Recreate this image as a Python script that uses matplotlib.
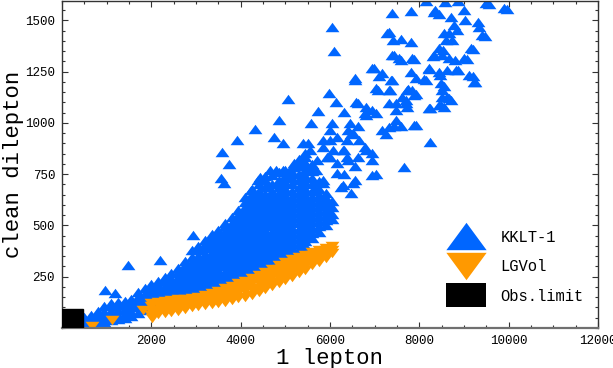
import matplotlib
matplotlib.use("Agg")
import matplotlib.pyplot as plt
from matplotlib.lines import Line2D
from matplotlib.patches import Rectangle
from matplotlib.ticker import MultipleLocator

# KKLT-1: dense band, read column by column (x, then the y values in that column)
kklt_cols = [500, 650, 800, 950, 1100, 1250, 1400, 1550, 1700, 1850, 2000, 2150,
             2300, 2450, 2600, 2750, 2900, 3050, 3200, 3350, 3500, 3650, 3800,
             3950, 4100, 4250, 4400, 4550, 4700, 4850, 5000, 5150, 5300, 5450,
             5600, 5750, 5900, 6050]
kklt_col_y = [
    [25, 40, 55],
    [25, 45, 65],
    [28, 50, 70, 85],
    [30, 55, 80, 105],
    [38, 60, 85, 105, 120],
    [43, 65, 90, 110, 128],
    [48, 70, 95, 115, 132],
    [60, 80, 100, 120, 140],
    [75, 100, 125, 150, 175],
    [90, 115, 140, 165, 195],
    [105, 130, 155, 180, 200, 215],
    [118, 140, 165, 190, 210, 228],
    [130, 155, 180, 205, 230, 250],
    [140, 165, 190, 215, 240, 270],
    [150, 175, 200, 225, 250, 275, 295],
    [158, 183, 208, 233, 258, 283, 305, 325],
    [170, 195, 220, 245, 270, 295, 320, 345, 380],
    [178, 203, 228, 253, 278, 303, 328, 353, 378, 400],
    [188, 213, 238, 263, 288, 313, 338, 363, 388, 410, 430],
    [198, 223, 248, 273, 298, 323, 348, 373, 398, 423, 445, 460],
    [210, 235, 260, 285, 310, 335, 360, 385, 410, 435, 460, 480],
    [225, 250, 275, 300, 325, 350, 375, 400, 425, 450, 475, 495, 510],
    [238, 263, 288, 313, 338, 363, 388, 413, 438, 463, 488, 513, 540],
    [250, 275, 300, 325, 350, 375, 400, 425, 450, 475, 500, 525, 550, 575],
    [265, 290, 315, 340, 365, 390, 415, 440, 465, 490, 515, 540, 565, 590, 615, 640],
    [276, 300, 325, 350, 375, 400, 425, 450, 475, 500, 525, 550, 575, 600, 625, 655, 680],
    [290, 315, 340, 365, 390, 415, 440, 465, 490, 515, 540, 565, 590, 615, 640, 670, 700],
    [305, 330, 355, 380, 405, 430, 455, 480, 505, 530, 555, 580, 605, 630, 655, 690, 720],
    [320, 345, 370, 395, 420, 445, 470, 495, 520, 545, 570, 595, 620, 645, 670, 700, 745],
    [335, 360, 385, 410, 435, 460, 485, 510, 535, 560, 585, 610, 635, 660, 690, 720, 760],
    [350, 375, 400, 425, 450, 475, 500, 525, 550, 575, 600, 625, 650, 680, 710, 740, 770],
    [365, 390, 415, 440, 465, 490, 515, 540, 565, 590, 615, 640, 670, 700, 730, 760, 785],
    [385, 410, 435, 460, 485, 510, 535, 560, 585, 610, 635, 660, 690, 720, 750, 790, 825],
    [400, 425, 450, 475, 500, 525, 550, 575, 600, 625, 650, 680, 710, 740, 770, 800, 835],
    [440, 465, 490, 515, 540, 565, 590, 615, 640, 670, 700, 730, 765, 800],
    [470, 495, 520, 545, 570, 595, 620, 650, 680, 717],
    [500, 525, 550, 575, 605, 635, 660],
    [530, 555, 590, 620],
]

# KKLT-1: scattered points above the band
kklt_spread = [
    (961, 187), (1185, 172), (1475, 308), (2190, 333), (2928, 454),
    (3554, 732), (3621, 707), (3576, 858), (3733, 800), (3911, 917), (4314, 971),
    (4224, 673), (4381, 722), (4537, 741), (4582, 688), (4425, 736), (4649, 770),
    (4783, 770), (4872, 707), (4939, 688), (4939, 770), (5029, 751), (5163, 785),
    (5185, 804), (5319, 722), (5342, 790), (5342, 688), (5386, 819), (5386, 902),
    (5431, 853), (5498, 902), (5543, 868), (5543, 770), (5677, 770), (5677, 688),
    (5699, 819), (5833, 882), (5833, 722), (5833, 916), (5833, 707), (5923, 834),
    (5990, 917), (5990, 834), (5990, 965), (6035, 999), (6057, 868), (6146, 931),
    (6146, 804), (6146, 756), (6236, 688), (6280, 868), (6280, 697), (6303, 751),
    (6303, 868), (6370, 916), (6370, 834), (6392, 965), (6392, 819), (6437, 999),
    (6459, 945), (6459, 658), (6504, 950), (6504, 707), (6549, 790), (6549, 722),
    (6638, 984), (6638, 834), (6660, 916), (6794, 882), (6817, 868), (6951, 853),
    (6951, 819), (6951, 746), (7040, 751), (7264, 945), (7442, 984), (7599, 984),
    (7174, 965), (7331, 979), (7487, 1013), (7890, 989), (7934, 989), (7666, 785),
    (8247, 906),
    (4738, 931), (4850, 1013), (4939, 902), (5051, 1116), (5565, 999), (5722, 1057),
    (5967, 1145), (6124, 1101), (6303, 1052), (6593, 1101), (6638, 1096),
    (6794, 1048), (6817, 1077), (6817, 1038), (6951, 1062), (7040, 1048),
    (7085, 1160), (7040, 1170), (7331, 1096), (7331, 1160), (7353, 1160),
    (7487, 1062), (7487, 1096), (7621, 1126), (7711, 1096), (7711, 1111),
    (7733, 1077), (7755, 1164), (7733, 1160), (7845, 1160), (7890, 1135),
    (7934, 1140), (8225, 1072), (8247, 1072), (8448, 1087), (8493, 1087),
    (8560, 1077), (8627, 1126), (8672, 1121), (8717, 1111), (8515, 1126),
    (8515, 1160), (8493, 1194), (8560, 1179), (8113, 1213), (8158, 1208),
    (7934, 1218), (7823, 1247), (7376, 1208), (7398, 1208), (7174, 1242),
    (7107, 1228), (6996, 1267), (6951, 1267), (6549, 1208), (6549, 1218),
    (8225, 1262), (8225, 1267), (8448, 1247), (8471, 1233), (8627, 1257),
    (8828, 1257), (8873, 1257), (9119, 1233), (9208, 1228), (9231, 1198),
    (9253, 1198),
    (6079, 1349), (6035, 1466), (7398, 1330), (7442, 1330), (7554, 1315),
    (7599, 1305), (7845, 1315), (7890, 1310), (8314, 1325), (8337, 1330),
    (8515, 1330), (8538, 1354), (8448, 1363), (8672, 1315), (8806, 1305),
    (9007, 1315), (9074, 1310), (9164, 1363), (9208, 1359), (7286, 1437),
    (7331, 1442), (7420, 1403), (7599, 1408), (7823, 1393), (8560, 1437),
    (8605, 1403), (8672, 1437), (8739, 1403), (8784, 1476), (8851, 1452),
    (9029, 1500), (9320, 1490), (9342, 1466), (9409, 1427), (9476, 1422),
    (7398, 1534), (7823, 1544), (8337, 1539), (8359, 1549), (8448, 1529),
    (8717, 1515), (9007, 1549), (8582, 1588), (8158, 1595), (8873, 1595),
    (9499, 1583), (9566, 1578), (9901, 1559), (9968, 1554),
]

# LGVol: band read column by column, plus a few low points on the left
lgvol_cols = [2000, 2150, 2300, 2450, 2600, 2750, 2900, 3050, 3200, 3350, 3500,
              3650, 3800, 3950, 4100, 4250, 4400, 4550, 4700, 4850, 5000, 5150,
              5300, 5450, 5600, 5750, 5900, 6050]
lgvol_col_y = [
    [65, 85, 105, 124],
    [70, 90, 110, 128],
    [72, 92, 113, 133],
    [78, 98, 118, 137],
    [85, 104, 122, 140],
    [92, 110, 127, 143],
    [100, 116, 132, 147],
    [106, 121, 136, 150],
    [110, 127, 144, 160],
    [116, 135, 154, 172],
    [122, 142, 162, 182],
    [127, 149, 171, 193],
    [135, 158, 182, 205],
    [145, 169, 193, 217],
    [153, 179, 205, 230],
    [163, 190, 218, 245],
    [175, 196, 217, 239, 260],
    [190, 211, 232, 254, 275],
    [205, 226, 247, 269, 290],
    [220, 242, 264, 286, 307],
    [235, 257, 279, 301, 323],
    [250, 272, 293, 315, 336],
    [267, 287, 307, 328, 348],
    [285, 303, 321, 340, 358],
    [305, 321, 337, 354, 370],
    [322, 337, 352, 367, 382],
    [342, 355, 367, 380, 392],
    [365, 382, 398],
]
lgvol_extra = [(671, 12), (1118, 41), (1810, 89), (2012, 51)]

# observational limit box (x, y)
obs_limit = (460, 92)

labels = ['KKLT-1', 'LGVol', 'Obs.limit']
x_ticks = [2000, 4000, 6000, 8000, 10000, 12000]
y_ticks = [250, 500, 750, 1000, 1250, 1500]

blue = '#0066ff'
orange = '#ff9900'
tri_up = [(-1, -0.68), (1, -0.68), (0, 0.68), (-1, -0.68)]
tri_dn = [(-1, 0.68), (1, 0.68), (0, -0.68), (-1, 0.68)]
box = [(-1, -0.62), (1, -0.62), (1, 0.62), (-1, 0.62), (-1, -0.62)]

plt.rcParams['font.family'] = ['Liberation Mono', 'DejaVu Sans Mono']

kx = [c for c, ys in zip(kklt_cols, kklt_col_y) for _ in ys]
ky = [y for ys in kklt_col_y for y in ys]
kx += [p[0] for p in kklt_spread]
ky += [p[1] for p in kklt_spread]

lx = [c for c, ys in zip(lgvol_cols, lgvol_col_y) for _ in ys]
ly = [y for ys in lgvol_col_y for y in ys]
lx += [p[0] for p in lgvol_extra]
ly += [p[1] for p in lgvol_extra]

fig = plt.figure(figsize=(6.13, 3.68), dpi=100)
ax = fig.add_axes([62 / 613, 40 / 368, 536 / 613, 327.5 / 368])

ax.plot(kx, ky, ls='none', marker=tri_up, ms=10, color=blue, mew=0)
ax.plot(lx, ly, ls='none', marker=tri_dn, ms=10, color=orange, mew=0)
ax.add_patch(Rectangle((0, 0), obs_limit[0], obs_limit[1], color='black', zorder=3))

ax.set_xlim(0, 12000)
ax.set_ylim(0, 1597)
ax.set_xticks(x_ticks)
ax.set_yticks(y_ticks)
ax.xaxis.set_minor_locator(MultipleLocator(500))
ax.yaxis.set_minor_locator(MultipleLocator(50))
ax.tick_params(which='both', direction='in', top=True, right=True,
               labelsize=9, width=0.8, color='#333333')
ax.tick_params(which='major', length=4.5, pad=5)
ax.tick_params(which='minor', length=2.2)
for s in ax.spines.values():
    s.set_linewidth(1.0)
    s.set_color('#333333')
ax.spines['bottom'].set_color('#707070')
ax.spines['bottom'].set_linewidth(1.6)

ax.set_xlabel('1 lepton', fontsize=16, labelpad=1)
ax.set_ylabel('clean dilepton', fontsize=16, labelpad=1)

handles = [
    Line2D([], [], ls='none', marker=tri_up, ms=29, color=blue, mew=0),
    Line2D([], [], ls='none', marker=tri_dn, ms=29, color=orange, mew=0),
    Line2D([], [], ls='none', marker=box, ms=29, color='black', mew=0),
]
ax.legend(handles, labels, loc='lower right', bbox_to_anchor=(0.985, 0.055),
          frameon=False, fontsize=11.2, handlelength=2.0, handletextpad=1.19,
          labelspacing=0.93, borderaxespad=0, borderpad=0.4)

fig.savefig('out.png', dpi=100)
